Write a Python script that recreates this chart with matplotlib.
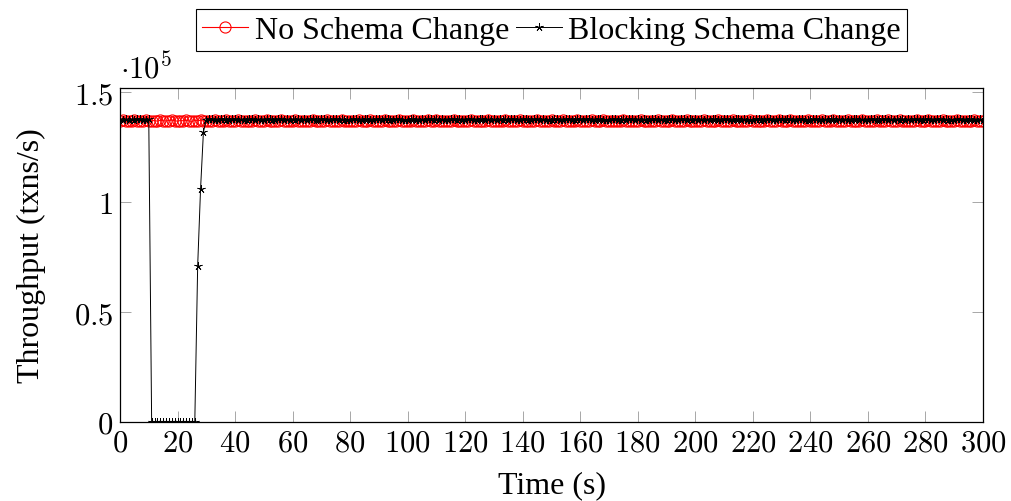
import matplotlib
matplotlib.use("Agg")
import matplotlib.pyplot as plt
from matplotlib.ticker import FixedLocator, FuncFormatter

plt.rcParams['mathtext.fontset'] = 'cm'
plt.rcParams['font.family'] = ['Liberation Serif', 'DejaVu Serif']

# ---- data ----
time_s = list(range(0, 301))

no_schema_change = [
    137100, 137300, 136900, 137200, 137000, 137400, 137100, 136800, 137200, 137300,
    137000, 137100, 137200, 136900, 137300, 137100, 137000, 137200, 137400, 137100,
    136900, 137200, 137100, 137300, 137000, 136800, 137200, 137100, 137300, 137000,
    137200, 137100, 136900, 137300, 137200, 137000, 137100, 137400, 137200, 136900,
    137100, 137300, 137000, 137200, 137100, 136900, 137200, 137300, 137100, 137000,
    137200, 137400, 137100, 136900, 137200, 137000, 137300, 137100, 137200, 136800,
    137100, 137300, 137200, 137000, 137100, 137200, 136900, 137300, 137100, 137000,
    137200, 137100, 137400, 137000, 137200, 136900, 137100, 137300, 137200, 137000,
    137100, 137200, 136900, 137300, 137100, 137000, 137200, 137400, 137100, 136900,
    137200, 137100, 137300, 137000, 137200, 136800, 137100, 137300, 137000, 137200,
    137100, 137000, 137300, 137200, 136900, 137100, 137200, 137400, 137000, 137100,
    137300, 137200, 136900, 137100, 137000, 137200, 137300, 137100, 136900, 137200,
    137000, 137100, 137300, 137200, 137000, 136900, 137200, 137100, 137400, 137100,
    137000, 137200, 137100, 136800, 137300, 137100, 137200, 137000, 137100, 137300,
    137200, 136900, 137100, 137000, 137200, 137300, 137100, 137200, 136900, 137100,
    137300, 137000, 137200, 137100, 137400, 137000, 137100, 137200, 136900, 137300,
    137100, 137200, 137000, 137100, 137500, 137200, 136900, 137100, 137300, 137000,
    137200, 137100, 136900, 137200, 137000, 137300, 137100, 137200, 137000, 136800,
    137100, 137300, 137200, 137000, 137100, 137200, 136900, 137300, 137100, 137000,
    137200, 137100, 137300, 136900, 137200, 137000, 137100, 137300, 137200, 137000,
    137100, 137200, 136900, 137300, 137100, 137000, 137200, 137100, 137400, 136900,
    137200, 137100, 137000, 137300, 137200, 136900, 137100, 137200, 137000, 137300,
    137100, 137000, 137200, 137100, 136900, 137300, 137200, 137000, 137100, 137400,
    137200, 136900, 137100, 137300, 137000, 137200, 137100, 136800, 137200, 137300,
    137000, 137100, 137200, 136900, 137300, 137100, 137000, 137200, 137400, 137100,
    136900, 137200, 137100, 137300, 137000, 137100, 137200, 137100, 137300, 137000,
    137200, 137100, 136900, 137300, 137200, 137000, 137100, 137400, 137200, 136900,
    137100, 137300, 137000, 137200, 137100, 136900, 137200, 137300, 137100, 137000,
    137200, 137400, 137100, 136900, 137200, 137000, 137300, 137100, 137200, 136800,
    137100, 137300, 137200, 137000, 137100, 137200, 136900, 137300, 137100, 137000,
    137200,
]

blocking_schema_change = [
    137700, 137600, 137800, 137500, 137700, 137600, 137800, 137700, 137500, 137600,
    137700, 0, 0, 0, 0, 0, 0, 0, 0, 0,
    0, 0, 0, 0, 0, 0, 0, 71000, 106000, 132000,
    137600, 137800, 137700, 137500, 137600, 137800, 137700, 137600, 137500, 137700,
    137800, 137600, 137700, 137500, 137600, 137800, 137700, 137600, 137700, 137500,
    137600, 137800, 137700, 137600, 137500, 137700, 137800, 137600, 137700, 137500,
    137700, 137600, 137800, 137500, 137700, 137600, 137800, 137700, 137500, 137600,
    137800, 137700, 137600, 137500, 137700, 137800, 137600, 137700, 137600, 137500,
    137600, 137800, 137700, 137500, 137600, 137700, 137800, 137600, 137500, 137700,
    137700, 137600, 137800, 137700, 137500, 137600, 137800, 137700, 137600, 137500,
    137600, 137700, 137800, 137600, 137500, 137700, 137600, 137800, 137700, 137500,
    137800, 137600, 137700, 137500, 137600, 137800, 137700, 137600, 137700, 137500,
    137600, 137800, 137700, 137600, 137500, 137700, 137800, 137600, 137700, 137600,
    137700, 137600, 137800, 137500, 137700, 137600, 137800, 137700, 137500, 137600,
    137800, 137700, 137600, 137500, 137700, 137800, 137600, 137700, 137600, 137500,
    137600, 137800, 137700, 137500, 137600, 137700, 137800, 137600, 137500, 137700,
    137700, 137600, 137800, 137700, 137500, 137600, 137800, 137700, 137600, 137500,
    137600, 137700, 137800, 137600, 137500, 137700, 137600, 137800, 137700, 137500,
    137800, 137600, 137700, 137500, 137600, 137800, 137700, 137600, 137700, 137500,
    137600, 137800, 137700, 137600, 137500, 137700, 137800, 137600, 137700, 137600,
    137700, 137600, 137800, 137500, 137700, 137600, 137800, 137700, 137500, 137600,
    137800, 137700, 137600, 137500, 137700, 137800, 137600, 137700, 137600, 137500,
    137600, 137800, 137700, 137500, 137600, 137700, 137800, 137600, 137500, 137700,
    137700, 137600, 137800, 137700, 137500, 137600, 137800, 137700, 137600, 137500,
    137600, 137700, 137800, 137600, 137500, 137700, 137600, 137800, 137700, 137500,
    137800, 137600, 137700, 137500, 137600, 137800, 137700, 137600, 137700, 137500,
    137600, 137800, 137700, 137600, 137500, 137700, 137800, 137600, 137700, 137600,
    137700, 137600, 137800, 137500, 137700, 137600, 137800, 137700, 137500, 137600,
    137800, 137700, 137600, 137500, 137700, 137800, 137600, 137700, 137600, 137500,
    137600, 137800, 137700, 137500, 137600, 137700, 137800, 137600, 137500, 137700,
    137600,
]

series_labels = ["No Schema Change", "Blocking Schema Change"]
x_ticks = list(range(0, 301, 20))
y_ticks = [0, 50000, 100000, 150000]
y_tick_labels = ["0", "0.5", "1", "1.5"]

# ---- figure ----
fig = plt.figure(figsize=(10.11, 5.02), dpi=100)
ax = fig.add_axes([120 / 1011, 1 - 423 / 502, (983 - 120) / 1011, (423 - 89) / 502])

ax.plot(time_s, no_schema_change, color='red', linewidth=0.8,
        marker='o', markersize=8, markerfacecolor='none', markeredgecolor='red',
        markeredgewidth=0.8, label=series_labels[0], zorder=2)
ax.plot(time_s, blocking_schema_change, color='black', linewidth=0.7,
        marker=(5, 2, 0), markersize=6, markeredgewidth=0.55,
        label=series_labels[1], zorder=3)

ax.set_xlim(0, 300)
ax.set_ylim(0, 152000)

ax.xaxis.set_major_locator(FixedLocator(x_ticks))
ax.yaxis.set_major_locator(FixedLocator(y_ticks))
ax.xaxis.set_major_formatter(FuncFormatter(lambda v, p: r"$%d$" % v))
ax.yaxis.set_major_formatter(FuncFormatter(
    lambda v, p: r"$%s$" % y_tick_labels[y_ticks.index(int(round(v)))] if int(round(v)) in y_ticks else ""))

ax.tick_params(axis='both', which='major', direction='in', length=8, width=0.6,
               color='#999999', labelsize=22, top=True, right=True, pad=5)
for sp in ax.spines.values():
    sp.set_linewidth(0.9)
    sp.set_color('black')

ax.text(0.0, 1.01, r"$\cdot 10^{5}$", transform=ax.transAxes, ha='left', va='bottom',
        fontsize=22)

ax.set_xlabel("Time (s)", fontsize=23, labelpad=9)
ax.set_ylabel("Throughput (txns/s)", fontsize=23, labelpad=20)

leg = ax.legend(loc='lower center', bbox_to_anchor=(0.5, 1.11), ncol=2, fontsize=23,
                frameon=True, fancybox=False, edgecolor='black', framealpha=1,
                handlelength=1.45, handletextpad=0.2, columnspacing=0.2,
                borderpad=0.2, borderaxespad=0)
leg.get_frame().set_linewidth(0.8)

fig.savefig("out.png", dpi=100)
